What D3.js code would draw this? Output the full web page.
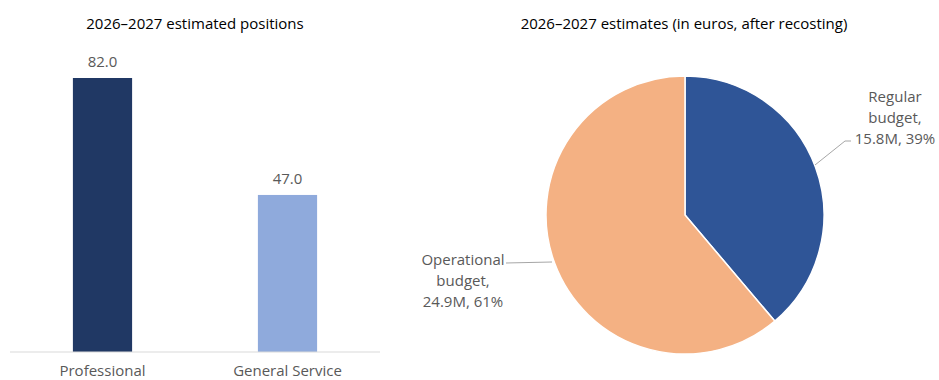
<!DOCTYPE html>
<html><head><meta charset="utf-8">
<script src="https://cdn.jsdelivr.net/npm/d3@7"></script>
<style>
html,body{margin:0;padding:0;background:#fff;}
svg{display:block;font-family:"Open Sans","Noto Sans",sans-serif;}
</style></head>
<body>
<svg id="chart" width="939" height="380"></svg>
<script>
// Staffing positions
const positionCategories = ["Professional", "General Service"];
const positionValues = [82.0, 47.0];
const positionColors = ["#203864", "#8FAADC"];

// Funding split (millions of euros)
const budgetNames = ["Regular budget", "Operational budget"];
const budgetValues = [15.8, 24.9];
const budgetColors = ["#2F5597", "#F4B183"];

const svg = d3.select("#chart");
const textGrey = "#595959";
const fs = 15;

// ---- Bar chart ----
const barTitle = "2026\u20132027 estimated positions";
svg.append("text").attr("x", 195).attr("y", 29).attr("text-anchor", "middle")
  .attr("font-size", fs).attr("fill", "#000").text(barTitle);

const x = d3.scaleBand().domain(positionCategories).range([10, 380]).paddingInner(0.68).paddingOuter(0.34);
const y = d3.scaleLinear().domain([0, 82]).range([352, 78]);

svg.selectAll("rect.bar").data(positionCategories).join("rect")
  .attr("class", "bar")
  .attr("x", d => x(d)).attr("width", x.bandwidth())
  .attr("y", (d, i) => y(positionValues[i]))
  .attr("height", (d, i) => y(0) - y(positionValues[i]))
  .attr("fill", (d, i) => positionColors[i]);

svg.selectAll("text.val").data(positionCategories).join("text")
  .attr("class", "val")
  .attr("x", d => x(d) + x.bandwidth() / 2)
  .attr("y", (d, i) => y(positionValues[i]) - 11)
  .attr("text-anchor", "middle").attr("font-size", fs).attr("fill", textGrey)
  .text((d, i) => positionValues[i].toFixed(1));

const xAxis = svg.append("g").attr("transform", `translate(0,${y(0)})`)
  .call(d3.axisBottom(x).tickSize(0).tickPadding(13));
xAxis.select(".domain").attr("stroke", "#D9D9D9").attr("stroke-width", 1.2).attr("d", "M10,0H380");
xAxis.selectAll("text").attr("font-size", fs).attr("fill", textGrey)
  .attr("font-family", "'Open Sans','Noto Sans',sans-serif");

// ---- Pie chart ----
const pieTitle = "2026\u20132027 estimates (in euros, after recosting)";
svg.append("text").attr("x", 684).attr("y", 29).attr("text-anchor", "middle")
  .attr("font-size", fs).attr("fill", "#000").text(pieTitle);

const cx = 685, cy = 215, r = 139;
const pie = d3.pie().sort(null).value(d => d)(budgetValues);
const arc = d3.arc().innerRadius(0).outerRadius(r);
const g = svg.append("g").attr("transform", `translate(${cx},${cy})`);
g.selectAll("path").data(pie).join("path")
  .attr("d", arc).attr("fill", (d, i) => budgetColors[i])
  .attr("stroke", "#fff").attr("stroke-width", 1.5);

const total = d3.sum(budgetValues);
const labelLines = budgetNames.map((n, i) => {
  const parts = n.split(" ");
  return [parts[0], parts[1] + ",", `${budgetValues[i].toFixed(1)}M, ${Math.round(budgetValues[i] / total * 100)}%`];
});

// label anchors (relative to pie centre) and leader line paths
const labelPos = [[210, -113], [-222, 50]];
const leaderPts = [
  [[166, -74], [160, -74], [130, -50]],
  [[-179, 48], [-133, 47]]
];

budgetNames.forEach((n, i) => {
  const t = g.append("text").attr("text-anchor", "middle").attr("font-size", fs).attr("fill", textGrey);
  labelLines[i].forEach((line, k) => {
    t.append("tspan").attr("x", labelPos[i][0]).attr("y", labelPos[i][1] + k * 21).text(line);
  });
  g.append("path").attr("d", d3.line()(leaderPts[i]))
    .attr("fill", "none").attr("stroke", "#A6A6A6").attr("stroke-width", 1);
});
</script>
</body></html>
